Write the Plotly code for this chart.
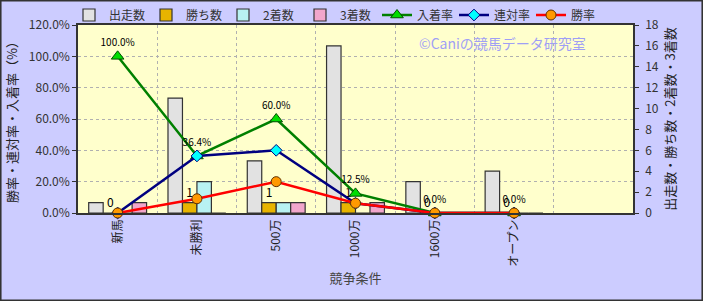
import plotly.graph_objects as go

categories = ["新馬", "未勝利", "500万", "1000万", "1600万", "オープン"]
extra_category = [" "]

starts = [1, 11, 5, 16, 3, 4]
wins = [0, 1, 1, 1, 0, 0]
seconds = [0, 3, 1, 0, 0, 0]
thirds = [1, 0, 1, 1, 0, 0]

place_rate = [1.0, 0.364, 0.60, 0.125, 0.0, 0.0]
rentai_rate = [0.0, 0.364, 0.40, 0.0625, 0.0, 0.0]
win_rate = [0.0, 0.091, 0.20, 0.0625, 0.0, 0.0]

FONT = "Noto Sans CJK JP"
W, H = 703, 301
ML, MR, MT, MB = 78, 70, 25, 88

xcats = categories + extra_category

fig = go.Figure()

bar_line = dict(color="#333333", width=1.2)
fig.add_trace(go.Bar(name="出走数", x=xcats, y=starts + [None], yaxis="y",
                     marker=dict(color="#E2E2E2", line=bar_line)))
fig.add_trace(go.Bar(name="勝ち数", x=categories, y=wins, yaxis="y",
                     marker=dict(color="#E8B400", line=bar_line),
                     text=[str(v) for v in wins], textposition="outside",
                     textangle=0, constraintext="none", cliponaxis=False,
                     textfont=dict(family=FONT, size=12, color="#000000")))
fig.add_trace(go.Bar(name="2着数", x=categories, y=seconds, yaxis="y",
                     marker=dict(color="#B8F2F2", line=bar_line)))
fig.add_trace(go.Bar(name="3着数", x=categories, y=thirds, yaxis="y",
                     marker=dict(color="#F2A6CC", line=bar_line)))

fig.add_trace(go.Scatter(name="入着率", x=categories, y=place_rate, yaxis="y2",
                         mode="lines+markers+text",
                         line=dict(color="#008000", width=2.5),
                         marker=dict(symbol="triangle-up", size=11, color="#00DD00",
                                     line=dict(color="#005000", width=1)),
                         text=[f"{v*100:.1f}%" for v in place_rate],
                         textposition="top center", cliponaxis=False,
                         textfont=dict(family=FONT, size=10, color="#000000")))
fig.add_trace(go.Scatter(name="連対率", x=categories, y=rentai_rate, yaxis="y2",
                         mode="lines+markers",
                         line=dict(color="#000080", width=2.5),
                         marker=dict(symbol="diamond", size=9, color="#00FFFF",
                                     line=dict(color="#000080", width=1)),
                         cliponaxis=False))
fig.add_trace(go.Scatter(name="勝率", x=categories, y=win_rate, yaxis="y2",
                         mode="lines+markers",
                         line=dict(color="#FF0000", width=2.5),
                         marker=dict(symbol="circle", size=10, color="#FF9900",
                                     line=dict(color="#603000", width=1)),
                         cliponaxis=False))

pw = W - ML - MR
ph = H - MT - MB

fig.update_layout(
    width=W, height=H,
    margin=dict(l=ML, r=MR, t=MT, b=MB, pad=0, autoexpand=False),
    paper_bgcolor="#CCCCFF",
    plot_bgcolor="#FFFFCC",
    barmode="group", bargap=0.27, bargroupgap=0,
    font=dict(family=FONT, size=12, color="#333333"),
    showlegend=True,
    legend=dict(orientation="h", xref="container", yref="container",
                x=69 / W, xanchor="left", y=1 - 15 / H, yanchor="middle",
                bgcolor="rgba(0,0,0,0)", font=dict(family=FONT, size=12, color="#333333"),
                entrywidth=32, itemwidth=30, tracegroupgap=0),
    xaxis=dict(categoryorder="array", categoryarray=xcats, range=[-0.5, 6.5],
               tickangle=-90, tickson="boundaries", ticks="",
               showgrid=True, gridcolor="#B0B0B0", griddash="dot", gridwidth=1,
               showline=True, linecolor="#333333", linewidth=1.5, mirror=True,
               tickfont=dict(family=FONT, size=12, color="#222222"),
               title=dict(text="競争条件", font=dict(family=FONT, size=13, color="#444444"),
                          standoff=8)),
    yaxis=dict(side="right", range=[0, 18], dtick=2, showgrid=False,
               ticks="outside", ticklen=4, tickcolor="#333333", ticklabelstandoff=4,
               showline=True, linecolor="#333333", linewidth=1.5,
               tickfont=dict(family=FONT, size=12, color="#333333"),
               title=dict(text="出走数・勝ち数・2着数・3着数",
                          font=dict(family=FONT, size=13, color="#222222"), standoff=8),
               zeroline=False),
    yaxis2=dict(side="left", overlaying="y", range=[0, 1.2], dtick=0.2, tickformat=".1%",
                showgrid=True, gridcolor="#B0B0B0", griddash="dot", gridwidth=1,
                ticks="outside", ticklen=4, tickcolor="#333333",
                showline=True, linecolor="#333333", linewidth=1.5,
                tickfont=dict(family=FONT, size=12, color="#333333"),
                title=dict(text="勝率・連対率・入着率（%）",
                           font=dict(family=FONT, size=13, color="#222222"), standoff=8),
                zeroline=False),
    annotations=[dict(text="©Caniの競馬データ研究室", xref="paper", yref="paper",
                      x=0.61, y=0.905, xanchor="left", yanchor="middle", showarrow=False,
                      font=dict(family=FONT, size=14, color="#9F9FF5"))],
    shapes=[dict(type="rect", xref="paper", yref="paper",
                 x0=-ML / pw + 0.001, x1=1 + MR / pw - 0.001,
                 y0=-MB / ph + 0.003, y1=1 + MT / ph - 0.003,
                 line=dict(color="#333333", width=2), layer="below")],
)

fig.write_html("out.html")
